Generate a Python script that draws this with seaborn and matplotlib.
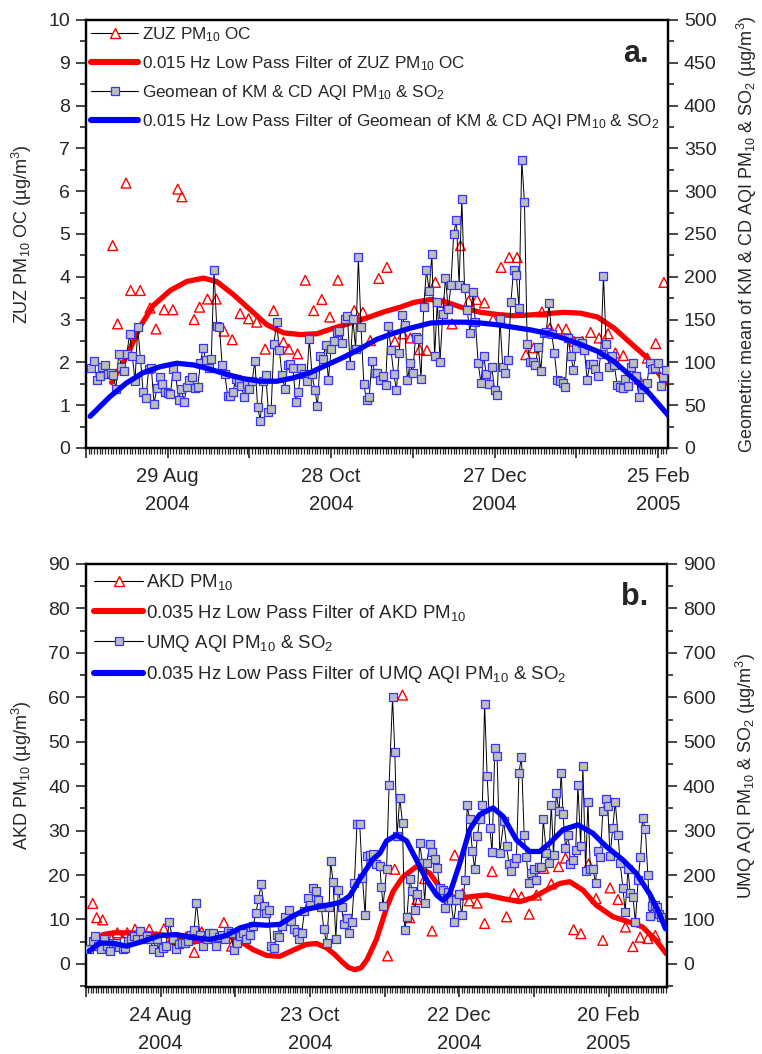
import numpy as np
import pandas as pd
import matplotlib
matplotlib.use("Agg")
import matplotlib.pyplot as plt
import matplotlib.dates as mdates
import matplotlib.ticker as mticker
from matplotlib.lines import Line2D
import seaborn as sns

sns.set_style("ticks")
plt.rcParams["font.family"] = ["Liberation Sans", "DejaVu Sans"]
plt.rcParams["mathtext.fontset"] = "custom"
plt.rcParams["mathtext.rm"] = "Liberation Sans"
plt.rcParams["mathtext.it"] = "Liberation Sans"
plt.rcParams["mathtext.bf"] = "Liberation Sans:bold"
plt.rcParams["mathtext.default"] = "regular"

# ---------------- Panel a data (day offsets from 30 Jul 2004) ----------------
start_a = "2004-07-30"
geomean_first_day = 2  # daily series starting 1 Aug 2004
geomean_vals = [
    94, 102, 79, 84, 95, 97, 86, 88, 85, 69,
    110, 95, 90, 110, 133, 108, 78, 141, 104, 65,
    58, 92, 93, 51, 70, 83, 75, 65, 64, 63,
    92, 84, 56, 69, 54, 71, 80, 83, 70, 71,
    99, 117, 103, 93, 104, 208, 142, 141, 97, 86,
    61, 61, 66, 81, 77, 72, 60, 75, 69, 78,
    102, 48, 32, 78, 85, 42, 46, 122, 147, 114,
    85, 69, 97, 98, 94, 54, 65, 94, 86, 78,
    127, 86, 68, 49, 107, 104, 120, 79, 116, 125,
    136, 137, 123, 151, 154, 97, 151, 116, 223, 141,
    75, 56, 60, 102, 88, 88, 80, 84, 74, 143,
    114, 86, 68, 111, 155, 144, 79, 99,
    88, 130, 127, 81, 165, 208, 183, 227, 107, 171,
    101, 157, 199, 162, 190, 250, 266, 190, 291, 187,
    161, 134, 182, 147, 99, 76, 108, 86, 75, 95,
    68, 62, 151, 95, 88, 103, 170, 208, 202, 163,
    337, 287, 121, 101, 101, 97, 118, 90, 134, 136,
    169, 133, 111, 80, 78, 76, 71, 129, 108, 91,
    117, 125, 123, 114, 80, 98, 98, 92, 84, 110,
    201, 122, 95, 108, 97, 74, 71, 70, 81, 72,
    95, 99, 84, 60, 69, 74, 76, 99, 92, 93,
    99, 73, 83, 91,
]
zuz_days = [9.8, 11.6, 14.7, 16.4, 19.9, 23.5, 25.7, 28.7, 31.9, 33.7, 35.2, 39.7, 41.7, 44.6,
            47.8, 50.7, 53.7, 56.6, 59.7, 62.7, 65.8, 68.9, 72.5, 74.5, 77.7, 80.5, 83.6, 86.6,
            89.5, 92.5, 98.5, 101.7, 104.4, 107.5, 110.5, 113.4, 116.4, 119.1, 122.5, 125.2,
            128.3, 131.4, 134.4, 137.5, 140.5, 143.5, 146.3, 149.5, 152.4, 155.4, 158.3, 161.5,
            164.4, 167.4, 170.3, 173.4, 176.3, 179.2, 182.2, 185.3, 188.4, 191.7, 194.4, 197.3,
            203.1, 206.1, 209.2, 212.2]
zuz_vals = [4.73, 2.90, 6.19, 3.68, 3.68, 3.27, 2.78, 3.23, 3.23, 6.05, 5.87, 3.00, 3.29, 3.48,
            3.48, 2.73, 2.53, 3.14, 3.02, 2.94, 2.31, 3.21, 2.47, 2.31, 2.20, 3.92, 3.21, 3.47,
            3.06, 3.92, 3.21, 3.17, 2.51, 3.96, 4.22, 2.49, 2.67, 2.57, 2.30, 2.28,
            3.87, 3.40, 2.90, 4.73, 3.43, 3.47, 3.39, 3.01, 4.22, 4.45, 4.45, 2.18,
            2.34, 3.18, 2.80, 2.78, 2.78, 2.49, 2.49, 2.70, 2.57, 2.67, 2.22, 2.16,
            1.61, 2.10, 2.44, 3.87]
zuz_lp_days = [9.4, 14.9, 19.9, 24.7, 30.9, 37, 43.1, 48, 54.2, 60.3, 66.4, 72.6, 78.7, 84.8,
               90.9, 97.1, 103.2, 109.3, 115.4, 120.3, 126.5, 132.6, 138.7, 144.9, 151, 157.1,
               163.2, 169.4, 175.5, 181.6, 187.8, 193.9, 200, 206.2, 211.1, 214.1]
zuz_lp_vals = [1.53, 2.14, 2.84, 3.33, 3.68, 3.89, 3.97, 3.89, 3.58, 3.23, 2.88, 2.69, 2.65, 2.67,
               2.80, 2.92, 3.04, 3.18, 3.29, 3.40, 3.47, 3.40, 3.27, 3.17, 3.12, 3.09,
               3.11, 3.14, 3.17, 3.15, 3.06, 2.80, 2.45, 2.10, 1.67, 1.48]
geo_lp_days = [1.5, 8.8, 14.9, 21, 27.2, 33.3, 39.5, 45.6, 51.7, 57.8, 63.9, 70.1, 76.2, 82.3,
               88.4, 94.6, 100.7, 106.8, 112.9, 119.1, 126.5, 132.6, 138.7, 144.9, 151, 157.1,
               163.2, 169.4, 175.5, 181.6, 187.8, 193.9, 200, 206.2, 214.1]
geo_lp_vals = [37, 60, 76, 88, 95, 99, 97, 92, 86, 81, 78, 78, 82, 88,
               97, 106, 116, 127, 134, 140, 146, 147, 147, 146, 144, 141,
               138, 134, 128, 121, 113, 101, 84, 66, 37]

# ---------------- Panel b data (day offsets from 25 Jul 2004) ----------------
start_b = "2004-07-25"
umq_days = [1.3, 2.7, 3.8, 4.9, 5.9, 7.2, 8.3, 9.6, 11.0, 12.0, 13.4, 14.7, 15.8, 17.0, 18.1,
            19.3, 20.4, 21.7, 23.0, 24.4, 25.7, 27.0, 28.4, 29.5, 30.8, 32.1, 33.5, 34.8, 36.1,
            37.2, 38.6, 39.9, 40.9, 42.0, 43.4, 44.4, 45.8, 47.1, 48.5, 49.5, 50.9, 52.2, 53.5,
            54.7, 55.8, 57.2, 58.2, 59.4, 60.5, 61.9, 63.2, 64.5, 65.9, 67.2, 68.3, 69.3, 70.4,
            71.5, 72.3, 73.4, 74.4, 75.5, 76.6, 77.7, 78.7, 80.1, 81.4, 82.5, 83.5, 84.6, 85.7,
            86.7, 87.8, 89.2, 90.2, 91.3, 92.4, 93.4, 94.5, 95.6, 96.7, 97.7, 98.3, 99.3, 100.4,
            101.4, 102.7, 103.6, 104.7, 105.7, 106.8, 107.9, 108.9, 110.0, 111.1, 112.2, 113.0,
            114.0, 115.4, 116.5,
            118.1, 118.7, 119.4, 120.8, 121.8, 123.2, 124.1, 125.0, 126.1, 127.2, 128.1, 129.0,
            130.1, 131.1, 132.1, 133.2, 134.1, 135.2, 136.1, 137.0, 138.1, 139.2, 140.2, 141.2,
            142.2, 143.3, 144.2, 145.5, 146.6, 147.8, 148.9, 149.9, 151.0, 152.3, 153.2, 154.2,
            155.3, 156.2, 157.3, 158.2, 159.3, 160.2, 161.2, 162.3, 163.2, 164.3, 165.2, 166.3,
            167.9, 169.0, 170.0, 170.9, 171.9, 173.0, 174.0, 175.0, 176.1, 177.0, 177.9, 179.0,
            180.0, 181.0, 181.9, 182.9, 183.8, 185.0, 185.9, 187.0, 187.9, 189.0, 190.1, 191.0,
            191.7, 192.7, 193.8, 194.7, 195.7, 196.8, 197.7, 198.8, 199.7, 200.8, 201.7, 202.7,
            203.7, 204.8, 205.7, 206.7, 207.7, 208.8, 209.7, 210.6, 211.7, 212.7, 213.8, 214.7,
            215.8, 216.7, 217.8, 218.7, 219.8, 220.8, 221.9, 222.8, 223.7, 224.8, 225.8, 226.7,
            227.5, 228.5, 229.4, 230.2, 231.1]
umq_vals = [34, 51, 63, 40, 34, 55, 40, 29, 47, 46, 38, 34, 36, 51, 55,
            63, 55, 74, 55, 63, 55, 34, 55, 26, 36, 41, 94, 55, 34,
            44, 47, 46, 51, 64, 76, 138, 64, 40, 57, 70, 69, 41, 61,
            66, 55, 74, 69, 31, 47, 63, 70, 55, 64, 85, 115, 145, 179,
            130, 115, 121, 41, 36, 66, 61, 85, 106, 121, 96, 79, 72, 55,
            70, 119, 149, 132, 170, 164, 144, 129, 78, 46, 129, 232, 185, 57,
            167, 129, 90, 104, 69, 94, 183, 315, 315, 194, 109, 242,
            244, 247, 225,
            220, 174, 130, 213, 402, 600, 477, 287, 374, 317, 77, 106,
            192, 164, 121, 158, 272, 228, 137, 228, 269, 251, 235, 215,
            170, 166, 125, 162, 143, 94, 143, 158, 109, 189, 357, 326,
            253, 214, 287, 326, 357, 586, 424, 306, 251, 485, 468, 250,
            321, 266, 225, 208, 228, 238, 430, 466, 289, 240, 181, 204,
            213, 189, 219, 219, 325, 249, 228, 358, 245, 385, 343, 430,
            338, 260, 291, 225, 234, 257, 402, 266, 445, 208, 364, 213,
            213, 183, 253, 240, 343, 370, 355, 242, 306, 364, 291, 226,
            170, 117, 213, 160, 151, 94, 189, 240, 328, 303, 200, 107,
            130, 132, 128, 113, 106]
akd_days = [2.7, 4.3, 6.7, 10.3, 12.6, 14.7, 16.6, 19.7, 22.8, 25.4, 28.4, 31.3, 34.4, 37.1,
            40.2, 43.5, 46.5, 55.4, 58.5, 121.2, 124.1, 127.2, 130.1, 133.0, 136.1, 139.1,
            148.2, 151.3, 154.0, 157.2, 160.2, 163.2, 169.0, 172.0, 175.0, 178.1, 181.0, 184.0,
            187.0, 189.9, 192.7, 196.0, 198.9, 202.0, 205.0, 207.7, 210.6, 213.8, 216.8, 219.8,
            222.7, 225.8, 228.8]
akd_vals = [13.6, 10.4, 9.9, 5.65, 7.0, 5.5, 7.0, 7.8, 6.3, 7.8, 6.1, 7.9, 5.5, 5.5,
            6.1, 2.6, 7.2, 9.3, 4.0, 1.8, 21.3, 60.5, 10.4, 14.5, 19.2, 7.4,
            24.5, 15.8, 14.2, 13.7, 9.1, 20.8, 10.6, 15.8, 15.1, 11.2, 15.5, 21.5,
            18.0, 21.9, 23.8, 7.7, 6.8, 22.5, 14.7, 5.3, 17.1, 14.5, 8.3, 3.9,
            6.0, 5.7, 6.4]
akd_lp_days = [2.3, 6.9, 11, 16.3, 23, 29.7, 36.4, 43.1, 49.8, 56.5, 61.9, 67.2, 72.6, 77.9,
               83.3, 88.6, 92.6, 96.7, 100, 103, 105.5, 108, 110.5, 113, 116.7, 120.8, 123.4,
               127.4, 132.8, 138.2, 143.5, 148.9, 155.5, 160.9, 167.6, 174.3, 179.5, 185, 190.4,
               194.4, 199.7, 205.1, 211.8, 218.5, 223.7, 229.1, 233.2]
akd_lp_vals = [5.1, 6.6, 7.0, 7.0, 6.9, 6.6, 5.9, 4.9, 5.5, 6.3, 5.1, 3.2, 1.9, 1.7,
               3.1, 4.4, 4.6, 3.6, 2.1, 0.4, -0.8, -1.3, -0.9, 1.0, 5.5, 12.6, 16.3,
               19.6, 21.9, 20.4, 16.2, 14.7, 15.2, 15.5, 14.7, 14.0, 14.9, 16.6, 18.1,
               18.5, 16.6, 13.2, 10.6, 9.4, 8.3, 5.3, 2.3]
umq_lp_days = [1.3, 5.6, 11, 16.3, 23, 29.7, 36.4, 43.1, 49.8, 56.5, 61.9, 67.2, 72.6, 77.9,
               83.3, 88.6, 96.7, 102, 106, 110, 115.4, 118.1, 120.8, 124.8, 128.8, 132.8,
               136.9, 140.9, 143.5, 146.2, 150.2, 154.2, 158.2, 163.6, 167.6, 173, 178.3,
               182.3, 186.4, 191.7, 197.7, 203.7, 209.1, 215.8, 221.1, 226.5, 230.5, 232.9]
umq_lp_vals = [29, 47, 46, 40, 51, 64, 66, 59, 55, 64, 81, 89, 87, 89,
               108, 123, 132, 138, 153, 191, 236, 249, 277, 290, 277, 234,
               189, 155, 143, 158, 226, 302, 336, 351, 332, 279, 253,
               253, 272, 302, 313, 294, 264, 234, 204, 158, 113, 79]

RED = "#ff0000"
BLUE = "#0000ff"
SQ_FACE = "#bdbdbd"
SQ_EDGE = "#3535ff"


def to_dates(start, days):
    return pd.Timestamp(start) + pd.to_timedelta(np.asarray(days, dtype=float), unit="D")


def style_xaxis(ax, start, ndays):
    s = pd.Timestamp(start)
    ax.set_xlim(s, s + pd.Timedelta(days=ndays))
    majors = [s + pd.Timedelta(days=30 * k) for k in range(int(ndays // 30) + 1)]
    ax.xaxis.set_major_locator(mticker.FixedLocator(mdates.date2num(majors)))
    labels = [f"{d.day} {d.strftime('%b')}\n{d.year}" if k % 2 == 1 else "" for k, d in enumerate(majors)]
    ax.xaxis.set_major_formatter(mticker.FixedFormatter(labels))
    ax.xaxis.set_minor_locator(mdates.DayLocator())
    ax.tick_params(axis="x", which="major", length=7.5, width=1.2, pad=6, labelsize=14.5, direction="out")
    ax.tick_params(axis="x", which="minor", length=4, width=0.9, direction="out")
    for t in ax.get_xticklabels():
        t.set_linespacing(1.6)


def style_yaxes(ax, ax2, lmaj, lmin, rmaj, rmin):
    ax.yaxis.set_major_locator(mticker.MultipleLocator(lmaj))
    ax.yaxis.set_minor_locator(mticker.MultipleLocator(lmin))
    ax2.yaxis.set_major_locator(mticker.MultipleLocator(rmaj))
    ax2.yaxis.set_minor_locator(mticker.MultipleLocator(rmin))
    for a in (ax, ax2):
        a.tick_params(axis="y", which="major", length=7.5, width=1.2, pad=4, labelsize=14, direction="out")
        a.tick_params(axis="y", which="minor", length=4, width=1.2, direction="out")
        for sp in a.spines.values():
            sp.set_visible(True)
            sp.set_linewidth(1.6)
            sp.set_color("black")


def draw_panel(ax, start, tri_days, tri_vals, tri_lp_days, tri_lp_vals,
               sq_dates, sq_vals, sq_lp_days, sq_lp_vals):
    ax2 = ax.twinx()
    # left axis: triangles + filtered red line
    dft = pd.DataFrame({"date": to_dates(start, tri_days), "v": tri_vals})
    sns.scatterplot(data=dft, x="date", y="v", ax=ax, marker="^", s=50,
                    color=RED, linewidth=1.0, zorder=2)
    coll = ax.collections[-1]
    coll.set_facecolor("none")
    coll.set_edgecolor(RED)
    dfl = pd.DataFrame({"date": to_dates(start, tri_lp_days), "v": tri_lp_vals})
    sns.lineplot(data=dfl, x="date", y="v", ax=ax, color=RED, linewidth=3.8,
                 estimator=None, sort=False, zorder=3)
    # right axis: squares connected by thin black line + filtered blue line
    dfs = pd.DataFrame({"date": sq_dates, "v": sq_vals})
    sns.lineplot(data=dfs, x="date", y="v", ax=ax2, color="black", linewidth=0.7,
                 estimator=None, sort=False, zorder=2)
    sns.scatterplot(data=dfs, x="date", y="v", ax=ax2, marker="s", s=29,
                    color=SQ_FACE, edgecolor=SQ_EDGE, linewidth=0.9, zorder=3)
    dfb = pd.DataFrame({"date": to_dates(start, sq_lp_days), "v": sq_lp_vals})
    sns.lineplot(data=dfb, x="date", y="v", ax=ax2, color=BLUE, linewidth=3.8,
                 estimator=None, sort=False, zorder=4)
    return ax2


fig = plt.figure(figsize=(7.62, 10.54), dpi=100)
W, H = 762.0, 1054.0
ax_a = fig.add_axes([86 / W, 1 - 448 / H, 582 / W, 428 / H])
ax_b = fig.add_axes([86 / W, 1 - 987 / H, 581 / W, 423 / H])

# ---- panel a ----
geo_dates = pd.date_range(pd.Timestamp(start_a) + pd.Timedelta(days=geomean_first_day),
                          periods=len(geomean_vals), freq="D")
ax_a2 = draw_panel(ax_a, start_a, zuz_days, zuz_vals, zuz_lp_days, zuz_lp_vals,
                   geo_dates, geomean_vals, geo_lp_days, geo_lp_vals)
ax_a.set_ylim(0, 10)
ax_a2.set_ylim(0, 500)
style_yaxes(ax_a, ax_a2, 1, 0.5, 50, 25)
style_xaxis(ax_a, start_a, 213.7)
ax_a.set_xlabel("")
ax_a.set_ylabel("ZUZ PM$_{10}$ OC (\u00b5g/m$^3$)", fontsize=13)
ax_a2.set_ylabel("Geometric mean of KM & CD AQI PM$_{10}$ & SO$_2$ (\u00b5g/m$^3$)", fontsize=13)
ax_a.yaxis.set_label_coords(-0.09, 0.5)
ax_a2.yaxis.set_label_coords(1.115, 0.5)
ax_a2.text(0.967, 0.903, "a.", transform=ax_a2.transAxes, ha="right", va="baseline",
           fontsize=22, fontweight="bold")

# ---- panel b ----
umq_dates = to_dates(start_b, umq_days)
ax_b2 = draw_panel(ax_b, start_b, akd_days, akd_vals, akd_lp_days, akd_lp_vals,
                   umq_dates, umq_vals, umq_lp_days, umq_lp_vals)
ax_b.set_ylim(-5.2, 90)
ax_b2.set_ylim(-52, 900)
style_yaxes(ax_b, ax_b2, 10, 5, 100, 50)
style_xaxis(ax_b, start_b, 233.5)
ax_b.set_xlabel("")
ax_b.set_ylabel("AKD PM$_{10}$ (\u00b5g/m$^3$)", fontsize=13)
ax_b2.set_ylabel("UMQ AQI PM$_{10}$ & SO$_2$ (\u00b5g/m$^3$)", fontsize=13)
ax_b.yaxis.set_label_coords(-0.09, 0.5)
ax_b2.yaxis.set_label_coords(1.115, 0.5)
ax_b2.text(0.967, 0.903, "b.", transform=ax_b2.transAxes, ha="right", va="baseline",
           fontsize=22, fontweight="bold")

for a2 in (ax_a2, ax_b2):
    a2.set_xlabel("")


def legend_handles():
    tri = Line2D([], [], color="black", linewidth=0.8, marker="^", markersize=7.5,
                 markerfacecolor="white", markeredgecolor=RED, markeredgewidth=1.0)
    red = Line2D([], [], color=RED, linewidth=4.4)
    sq = Line2D([], [], color="black", linewidth=0.8, marker="s", markersize=5.5,
                markerfacecolor=SQ_FACE, markeredgecolor=SQ_EDGE, markeredgewidth=0.9)
    blue = Line2D([], [], color=BLUE, linewidth=4.4)
    return [tri, red, sq, blue]


labels_a = ["ZUZ PM$_{10}$ OC",
            "0.015 Hz Low Pass Filter of ZUZ PM$_{10}$ OC",
            "Geomean of KM & CD AQI PM$_{10}$ & SO$_2$",
            "0.015 Hz Low Pass Filter of Geomean of KM & CD AQI PM$_{10}$ & SO$_2$"]
labels_b = ["AKD PM$_{10}$",
            "0.035 Hz Low Pass Filter of AKD PM$_{10}$",
            "UMQ AQI PM$_{10}$ & SO$_2$",
            "0.035 Hz Low Pass Filter of UMQ AQI PM$_{10}$ & SO$_2$"]

ax_a2.legend(legend_handles(), labels_a, loc="upper left", bbox_to_anchor=(0.0, 1.0),
             frameon=False, fontsize=12.3, handlelength=2.75, handletextpad=0.2,
             labelspacing=0.6, borderaxespad=0.1, borderpad=0.2)
ax_b2.legend(legend_handles(), labels_b, loc="upper left", bbox_to_anchor=(0.0, 1.0),
             frameon=False, fontsize=13.4, handlelength=2.6, handletextpad=0.2,
             labelspacing=0.55, borderaxespad=0.1, borderpad=0.35)

fig.savefig("out.png", dpi=100)
